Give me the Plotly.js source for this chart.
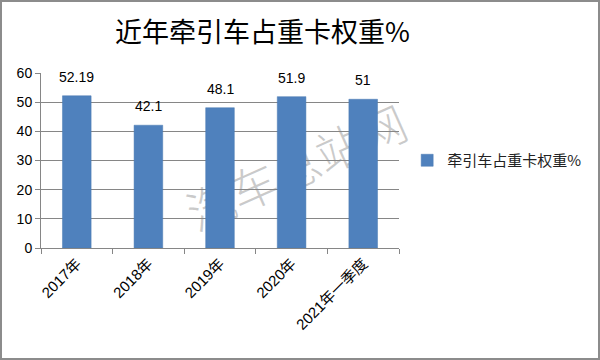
<!DOCTYPE html>
<html>
<head>
<meta charset="utf-8">
<script src="https://cdn.plot.ly/plotly-3.0.1.min.js"></script>
<style>
html,body{margin:0;padding:0;background:#fff;}
#wrap{width:596px;height:356px;border:2px solid #8c8c8c;}
#chart{width:596px;height:356px;}
</style>
</head>
<body>
<div id="wrap"><div id="chart"></div></div>
<script>
const categories = ["2017年", "2018年", "2019年", "2020年", "2021年一季度"];
const values = [52.19, 42.1, 48.1, 51.9, 51];
const valueLabels = ["52.19", "42.1", "48.1", "51.9", "51"];
const seriesName = "牵引车占重卡权重%";
const titleText = "近年牵引车占重卡权重%";
const watermark = "汽车总站网";

const trace = {
  type: "bar",
  x: categories,
  y: values,
  name: seriesName,
  marker: {color: "#4f81bd", line: {color: "#4a7ab3", width: 0.5}},
  hoverinfo: "none"
};

const labelAnnotations = categories.map((c, i) => ({
  x: c, y: values[i], xref: "x", yref: "y",
  text: valueLabels[i], showarrow: false,
  xanchor: "center", yanchor: "bottom", yshift: 9,
  font: {family: "Liberation Sans, Arial, sans-serif", size: 14, color: "#000"}
}));

const layout = {
  width: 596, height: 356,
  margin: {l: 39, r: 198, t: 71, b: 110},
  paper_bgcolor: "#fff", plot_bgcolor: "#fff",
  title: {text: titleText, xref: "container", x: 0.437, xanchor: "center", yref: "container", y: 0.915, yanchor: "middle",
    font: {family: "Noto Sans CJK SC, sans-serif", size: 27, color: "#000"}},
  bargap: 0.6,
  showlegend: true,
  legend: {x: 1.02, xanchor: "left", y: 0.5, yanchor: "middle", itemwidth: 30,
    font: {family: "Noto Sans CJK SC, sans-serif", size: 15, color: "#222"}},
  xaxis: {
    type: "category",
    tickangle: -45,
    tickson: "boundaries",
    ticks: "outside", ticklen: 5, tickcolor: "#868686",
    showline: true, linecolor: "#868686", linewidth: 1,
    showgrid: false,
    tickfont: {family: "Liberation Sans, Noto Sans CJK SC, sans-serif", size: 15, color: "#000"}
  },
  yaxis: {
    range: [0, 60], dtick: 10,
    ticks: "outside", ticklen: 5, tickcolor: "#868686",
    showline: true, linecolor: "#868686", linewidth: 1,
    showgrid: true, gridcolor: "#868686", gridwidth: 1,
    zeroline: false,
    tickfont: {family: "Liberation Sans, Arial, sans-serif", size: 14, color: "#000"}
  },
  shapes: [{
    type: "rect", xref: "paper", yref: "paper", x0: 0.6, x1: 0.84, y0: 0.38, y1: 0.48,
    layer: "below", line: {width: 0}, fillcolor: "rgba(0,0,0,0)",
    label: {text: watermark, textangle: -24, textposition: "middle center",
      font: {family: "Noto Sans CJK SC, serif", size: 47, weight: 300, color: "rgba(150,150,150,0.5)"}}
  }],
  annotations: labelAnnotations
};

Plotly.newPlot("chart", [trace], layout, {displayModeBar: false, staticPlot: true});
</script>
</body>
</html>
